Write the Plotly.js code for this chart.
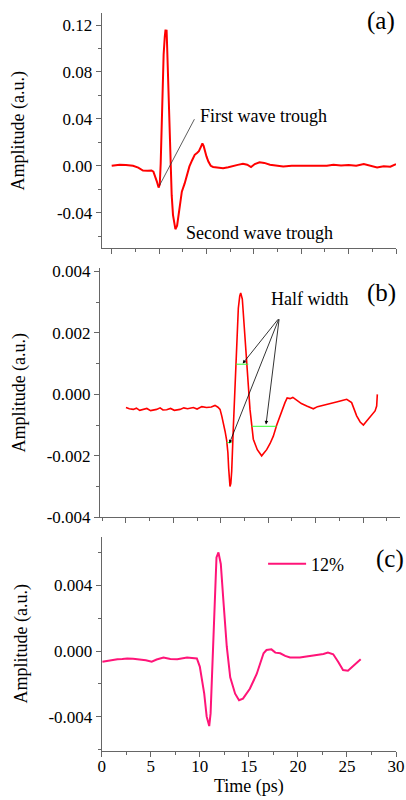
<!DOCTYPE html>
<html>
<head>
<meta charset="utf-8">
<script src="https://cdn.plot.ly/plotly-3.0.1.min.js"></script>
<style>html,body{margin:0;padding:0;background:#fff;}#chart{width:406px;height:800px;}</style>
</head>
<body>
<div id="chart"></div>
<script>
// ---- Panel (a) data ----
var aTime = [0, 0.5, 0.84, 1.5, 2.25, 2.8, 3.3, 3.8, 4.2, 4.4, 4.54, 4.75, 4.95, 5.07, 5.17, 5.26, 5.35, 5.48, 5.6, 5.68, 5.73, 5.79, 5.84, 5.92, 6.0, 6.1, 6.2, 6.33, 6.47, 6.6, 6.72, 6.9, 7.05, 7.17, 7.4, 7.7, 7.95, 8.2, 8.5, 8.76, 9.0, 9.2, 9.4, 9.57, 9.7, 9.8, 10.0, 10.2, 10.45, 10.7, 11.2, 11.75, 12.3, 12.8, 13.3, 13.85, 14.3, 14.7, 15.1, 15.6, 16.1, 16.7, 17.4, 18.1, 19, 20, 21, 22, 22.7, 23.4, 24.2, 25, 25.8, 26.6, 27.3, 28, 28.7, 29.4, 30];
var aAmp = [0, 0.0005, 0.001, 0.0008, 0.0, -0.0015, -0.004, -0.0042, -0.004, -0.005, -0.0077, -0.013, -0.0185, -0.016, 0.002, 0.035, 0.068, 0.095, 0.110, 0.116, 0.112, 0.116, 0.104, 0.080, 0.054, 0.025, -0.003, -0.025, -0.042, -0.051, -0.054, -0.051, -0.042, -0.032, -0.022, -0.015, -0.008, -0.0005, 0.005, 0.0094, 0.011, 0.0125, 0.016, 0.019, 0.017, 0.0137, 0.008, 0.0037, 0.0, -0.001, -0.0012, -0.002, -0.0012, 0.0, 0.0008, 0.0017, 0.0010, -0.001, 0.0015, 0.003, 0.0025, 0.001, 0.0005, -0.0005, 0.0, 0.0, -0.0003, -0.0006, 0.0, 0.001, 0.0003, 0.0008, 0.0, 0.0015, 0.0, -0.0015, -0.0003, -0.0008, 0.0015];

// ---- Panel (b) data ----
var bTime = [0.0, 0.35, 0.77, 1.1, 1.45, 1.83, 2.2, 2.6, 3.23, 3.6, 3.9, 4.29, 4.7, 5.1, 5.7, 6.1, 6.5, 7.1, 7.5, 8.0, 8.5, 9.0, 9.39, 9.7, 9.92, 10.1, 10.27, 10.45, 10.62, 10.75, 10.83, 10.97, 11.06, 11.15, 11.32, 11.46, 11.6, 11.72, 11.85, 12.0, 12.1, 12.27, 12.4, 12.55, 12.8, 13.08, 13.43, 13.85, 14.31, 14.84, 15.2, 15.54, 15.9, 16.24, 16.5, 16.77, 17.0, 17.3, 17.6, 18.0, 18.5, 19.06, 19.4, 19.76, 20.2, 20.8, 21.3, 21.87, 22.3, 22.8, 23.28, 23.8, 24.05, 24.33, 24.7, 25.04, 25.3, 25.56, 25.9, 26.27, 26.44, 26.5, 26.51];
var bAmp = [-0.00043, -0.00047, -0.00049, -0.00045, -0.00052, -0.0005, -0.00046, -0.00053, -0.00049, -0.00044, -0.00051, -0.0005, -0.00046, -0.00052, -0.00049, -0.00044, -0.00047, -0.00043, -0.00048, -0.0004, -0.00043, -0.00041, -0.00036, -0.00042, -0.00049, -0.0007, -0.00092, -0.0012, -0.0015, -0.0019, -0.0024, -0.003, -0.0029, -0.0025, -0.0011, 0.0000, 0.0012, 0.0021, 0.0028, 0.0032, 0.0033, 0.0031, 0.0025, 0.0018, 0.0006, -0.00049, -0.00146, -0.0018, -0.002, -0.0018, -0.0016, -0.00136, -0.001, -0.0007, -0.00045, -0.00027, -0.00012, -0.00014, -0.0001, -0.00018, -0.0003, -0.00038, -0.00042, -0.00047, -0.0004, -0.00036, -0.00032, -0.00027, -0.00024, -0.0002, -0.00016, -0.00027, -0.0005, -0.0007, -0.0009, -0.001, -0.0009, -0.0008, -0.00068, -0.00054, -0.00038, -0.0002, 0.0];

// Half-width markers in panel (b)
var hw1Time = [11.6, 12.9];   var hw1Amp = [0.00098, 0.00098];
var hw2Time = [13.26, 15.89]; var hw2Amp = [-0.00104, -0.00104];
var hw3Time = [10.62, 11.15]; var hw3Amp = [-0.00157, -0.00157];

// ---- Panel (c) data ----
var cTime = [0.07, 0.5, 0.9, 1.6, 2.1, 2.6, 3.2, 3.96, 4.5, 5.1, 5.6, 6.3, 7.0, 7.7, 8.2, 8.7, 9.2, 9.7, 10.0, 10.25, 10.45, 10.7, 10.85, 10.96, 11.1, 11.2, 11.3, 11.45, 11.57, 11.7, 11.9, 12.14, 12.4, 12.75, 13.1, 13.6, 14.0, 14.4, 15.1, 15.8, 16.5, 16.8, 17.3, 17.7, 18.2, 18.7, 19.2, 19.7, 20.2, 20.7, 21.2, 21.7, 22.2, 22.6, 23.06, 23.6, 24.1, 24.6, 25.1, 25.6, 26.0, 26.4];
var cAmp = [-0.00065, -0.0006, -0.00055, -0.0005, -0.00048, -0.00045, -0.00047, -0.0005, -0.00056, -0.00065, -0.00052, -0.0004, -0.00048, -0.0005, -0.00045, -0.0004, -0.00042, -0.00045, -0.00095, -0.0018, -0.0026, -0.004, -0.0044, -0.00457, -0.0038, -0.0022, -0.00014, 0.0022, 0.0039, 0.0057, 0.006, 0.0053, 0.0031, 0.00026, -0.0016, -0.0026, -0.003, -0.0029, -0.0023, -0.0014, -0.00014, 0.00006, 0.0001, -0.0001, -0.00014, -0.0003, -0.0004, -0.00042, -0.0004, -0.00035, -0.0003, -0.00028, -0.00024, -0.00018, -0.0001, -0.0002, -0.00065, -0.00116, -0.0012, -0.00095, -0.0007, -0.0005];

// ---- Tick labels ----
var aTickVals = [0.12, 0.08, 0.04, 0.0, -0.04];
var aTickText = ['0.12', '0.08', '0.04', '0.00', '-0.04'];
var bTickVals = [0.004, 0.002, 0.0, -0.002, -0.004];
var bTickText = ['0.004', '0.002', '0.000', '-0.002', '-0.004'];
var cTickVals = [0.004, 0.0, -0.004];
var cTickText = ['0.004', '0.000', '-0.004'];
var timeTickVals = [0, 5, 10, 15, 20, 25, 30];
var timeTickText = ['0', '5', '10', '15', '20', '25', '30'];
var legendName = '12%';

var SERIF = 'Liberation Serif, Times New Roman, serif';
var AXC = '#666666';

function xAx(dom, rng, anchor, labels) {
  var o = {
    domain: dom, range: rng, anchor: anchor,
    showline: true, linecolor: AXC, linewidth: 1,
    showgrid: false, zeroline: false,
    ticks: 'outside', ticklen: 5, tickcolor: AXC, tickwidth: 1,
    tickmode: 'array', tickvals: timeTickVals,
    minor: {tickmode: 'linear', tick0: 0, dtick: 2.5, ticks: 'outside', ticklen: 3, tickcolor: AXC, showgrid: false},
    showticklabels: labels,
    tickfont: {family: SERIF, size: 17, color: '#000'}
  };
  if (labels) { o.ticktext = timeTickText; o.ticklabelstandoff = -5; }
  return o;
}
function yAx(dom, rng, anchor, vals, text, minorD, title, standoff) {
  return {
    domain: dom, range: rng, anchor: anchor,
    showline: true, linecolor: AXC, linewidth: 1,
    showgrid: false, zeroline: false,
    ticks: 'outside', ticklen: 5, tickcolor: AXC, tickwidth: 1,
    tickmode: 'array', tickvals: vals, ticktext: text,
    minor: {tickmode: 'linear', tick0: 0, dtick: minorD, ticks: 'outside', ticklen: 3, tickcolor: AXC, showgrid: false},
    tickfont: {family: SERIF, size: 17, color: '#000'},
    title: {text: title, font: {family: SERIF, size: 18, color: '#000'}, standoff: standoff}
  };
}

var traces = [
  {x: aTime, y: aAmp, xaxis: 'x', yaxis: 'y', mode: 'lines', line: {color: '#ff0000', width: 2}, showlegend: false},
  {x: bTime, y: bAmp, xaxis: 'x2', yaxis: 'y2', mode: 'lines', line: {color: '#ff0000', width: 1.6}, showlegend: false},
  {x: hw1Time, y: hw1Amp, xaxis: 'x2', yaxis: 'y2', mode: 'lines', line: {color: '#33ff33', width: 1}, showlegend: false},
  {x: hw2Time, y: hw2Amp, xaxis: 'x2', yaxis: 'y2', mode: 'lines', line: {color: '#33ff33', width: 1}, showlegend: false},
  {x: hw3Time, y: hw3Amp, xaxis: 'x2', yaxis: 'y2', mode: 'lines', line: {color: '#33ff33', width: 1}, showlegend: false},
  {x: cTime, y: cAmp, xaxis: 'x3', yaxis: 'y3', mode: 'lines', name: legendName, line: {color: '#ff1478', width: 2}, showlegend: true}
];

var tf = {family: SERIF, size: 18, color: '#000'};
var pf = {family: SERIF, size: 25, color: '#000'};
var annotations = [
  {xref: 'x', yref: 'y', x: 5.62, y: 0.134, text: 'Peak', showarrow: false, font: tf},
  {xref: 'x', yref: 'y', x: 16.07, y: 0.0427, text: 'First wave trough', showarrow: false, font: tf},
  {xref: 'x', yref: 'y', x: 5.02, y: -0.0171, axref: 'x', ayref: 'y', ax: 8.81, ay: 0.041, text: '', showarrow: true, arrowhead: 0, arrowwidth: 0.8, arrowcolor: '#333'},
  {xref: 'x', yref: 'y', x: 15.6, y: -0.0573, text: 'Second wave trough', showarrow: false, font: tf},
  {xref: 'x', yref: 'y', x: 28.4, y: 0.123, text: '(a)', showarrow: false, font: pf},
  {xref: 'x2', yref: 'y2', x: 19.34, y: 0.00309, text: 'Half width', showarrow: false, font: tf},
  {xref: 'x2', yref: 'y2', x: 12.31, y: 0.001, axref: 'x2', ayref: 'y2', ax: 16.17, ay: 0.00249, text: '', showarrow: true, arrowhead: 2, arrowsize: 0.9, arrowwidth: 0.8, arrowcolor: '#000'},
  {xref: 'x2', yref: 'y2', x: 14.77, y: -0.00098, axref: 'x2', ayref: 'y2', ax: 16.17, ay: 0.00249, text: '', showarrow: true, arrowhead: 2, arrowsize: 0.9, arrowwidth: 0.8, arrowcolor: '#000'},
  {xref: 'x2', yref: 'y2', x: 10.9, y: -0.0016, axref: 'x2', ayref: 'y2', ax: 16.17, ay: 0.00249, text: '', showarrow: true, arrowhead: 2, arrowsize: 0.9, arrowwidth: 0.8, arrowcolor: '#000'},
  {xref: 'x2', yref: 'y2', x: 26.9, y: 0.0033, text: '(b)', showarrow: false, font: pf},
  {xref: 'x3', yref: 'y3', x: 29.35, y: 0.0056, text: '(c)', showarrow: false, font: pf}
];

var layout = {
  width: 406, height: 800,
  margin: {l: 0, r: 0, t: 0, b: 0},
  paper_bgcolor: '#fff', plot_bgcolor: '#fff',
  font: {family: SERIF, color: '#000'},
  xaxis: xAx([0.2505, 0.9754], [-1.055, 30], 'y', false),
  yaxis: yAx([0.6896, 0.9834], [-0.0703, 0.130], 'x', aTickVals, aTickText, 0.02, 'Amplitude (a.u.)', 27),
  xaxis2: xAx([0.2463, 0.9852], [-2.74, 28.9], 'y2', false),
  yaxis2: yAx([0.3534, 0.665], [-0.004, 0.00411], 'x2', bTickVals, bTickText, 0.001, 'Amplitude (a.u.)', 16),
  xaxis3: xAx([0.2505, 0.9754], [0, 30], 'y3', true),
  yaxis3: yAx([0.06125, 0.3291], [-0.00609, 0.00696], 'x3', cTickVals, cTickText, 0.002, 'Amplitude (a.u.)', 16),
  annotations: annotations,
  legend: {x: 0.648, y: 0.295, xanchor: 'left', yanchor: 'middle', itemwidth: 38, bgcolor: 'rgba(0,0,0,0)', font: {family: SERIF, size: 18, color: '#000'}}
};
layout.xaxis3.title = {text: 'Time (ps)', font: {family: SERIF, size: 18, color: '#000'}, standoff: 0};

Plotly.newPlot('chart', traces, layout, {displayModeBar: false, staticPlot: true});
</script>
</body>
</html>
